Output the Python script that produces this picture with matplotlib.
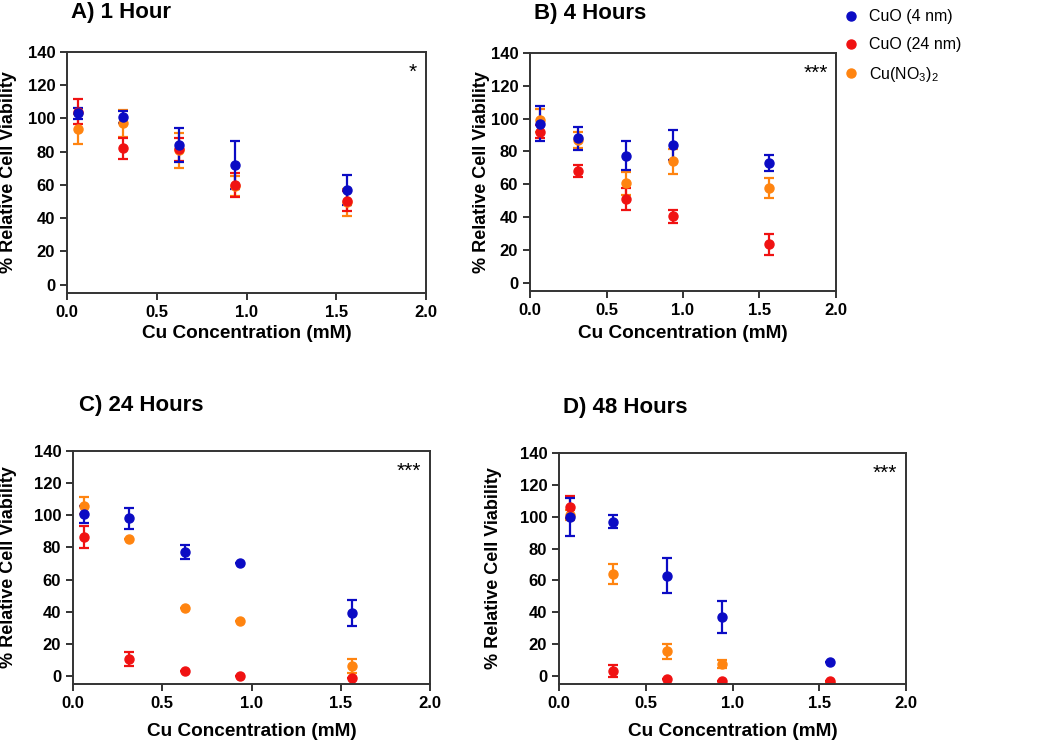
import numpy as np
import matplotlib
matplotlib.use('Agg')
import matplotlib.pyplot as plt
from matplotlib.lines import Line2D

plt.rcParams['font.family'] = ['Liberation Sans', 'DejaVu Sans']
plt.rcParams['mathtext.default'] = 'regular'

conc = [0.0625, 0.3125, 0.625, 0.9375, 1.5625]

# panel A, 1 hour
a_cuo4 = [103, 101, 84, 72, 57];      a_cuo4_err = [3.5, 3.5, 10, 14.4, 9]
a_cuo24 = [104, 82, 81.5, 60, 50.5];  a_cuo24_err = [7.5, 6.5, 7, 7.5, 6]
a_no3 = [93.5, 97, 81, 59.5, 49.5];   a_no3_err = [9, 8, 10.5, 6, 8]
# panel B, 4 hours
b_cuo4 = [97, 88, 77.5, 84, 73];      b_cuo4_err = [10.5, 7, 9, 9, 4.8]
b_cuo24 = [92, 68, 51, 40.5, 23.5];   b_cuo24_err = [4, 3.6, 6.6, 4, 6.5]
b_no3 = [99, 87, 60.5, 74, 57.5];     b_no3_err = [7, 5, 7, 7.5, 6.1]
# panel C, 24 hours
c_cuo4 = [100.5, 98, 77, 70, 39];     c_cuo4_err = [5.5, 6.4, 4.4, 0, 8]
c_cuo24 = [86.5, 10.5, 3, 0, -1.5];   c_cuo24_err = [7, 4.5, 0, 0, 0]
c_no3 = [106, 85.5, 42.5, 34.5, 6];   c_no3_err = [5.2, 0, 0, 0, 4.4]
# panel D, 48 hours
d_cuo4 = [100, 97, 63, 37, 8.5];      d_cuo4_err = [12, 4.2, 10.8, 9.8, 0]
d_cuo24 = [106, 3, -2, -3, -3];       d_cuo24_err = [7, 3.8, 0, 0, 0]
d_no3 = [101, 64, 15.5, 7.5, -4.2];   d_no3_err = [3, 6.1, 4.6, 2.7, 0]

titles = ['A) 1 Hour', 'B) 4 Hours', 'C) 24 Hours', 'D) 48 Hours']
stars = ['*', '***', '***', '***']
blue = '#0b0bc4'; red = '#f01212'; orange = '#ff8410'
W, H = 1050, 742

# pixel boxes: left, right, top, bottom
boxes = [(67, 426, 52, 293), (530, 836, 53, 291), (73, 430, 451, 684), (559, 906, 453, 684)]
title_pos = [(71, 18), (534, 19), (79, 411), (563, 413)]   # baseline
ylab_x = [9, 482, 9, 493]
xlab_y = [334, 333, 732, 732]

panels = [(a_cuo4, a_cuo4_err, a_cuo24, a_cuo24_err, a_no3, a_no3_err),
          (b_cuo4, b_cuo4_err, b_cuo24, b_cuo24_err, b_no3, b_no3_err),
          (c_cuo4, c_cuo4_err, c_cuo24, c_cuo24_err, c_no3, c_no3_err),
          (d_cuo4, d_cuo4_err, d_cuo24, d_cuo24_err, d_no3, d_no3_err)]

fig = plt.figure(figsize=(W/100, H/100), dpi=100)

for i, (b4, b4e, r24, r24e, o, oe) in enumerate(panels):
    l, r, t, b = boxes[i]
    ax = fig.add_axes([l/W, 1-b/H, (r-l)/W, (b-t)/H])
    for y, e, c in [(o, oe, orange), (r24, r24e, red), (b4, b4e, blue)]:
        ax.errorbar(conc, y, yerr=e, fmt='o', color=c, ms=6.5, elinewidth=1.6,
                    capsize=3.8, capthick=1.6)
    ax.set_xlim(0, 2.0)
    ax.set_ylim(-5, 140)
    ax.set_xticks([0, 0.5, 1.0, 1.5, 2.0])
    ax.set_xticklabels(['0.0', '0.5', '1.0', '1.5', '2.0'])
    ax.set_yticks(range(0, 141, 20))
    for s in ax.spines.values():
        s.set_linewidth(1.4); s.set_color('#333333')
    ax.tick_params(direction='out', length=5, width=1.4, labelsize=12, color='#333333')
    for lab in ax.get_xticklabels() + ax.get_yticklabels():
        lab.set_fontweight('bold')
    ax.text(0.975, 0.955, stars[i], transform=ax.transAxes, ha='right', va='top', fontsize=15)
    tx, ty = title_pos[i]
    fig.text(tx/W, 1-ty/H, titles[i], fontsize=16, fontweight='bold', ha='left', va='baseline')
    fig.text(ylab_x[i]/W, 1-(t+b)/2/H, '% Relative Cell Viability', rotation=90,
             fontsize=13, fontweight='bold', ha='center', va='center')
    fig.text((l+r)/2/W, 1-xlab_y[i]/H, 'Cu Concentration (mM)', fontsize=13.7,
             fontweight='bold', ha='center', va='center')

handles = [Line2D([], [], marker='o', ls='none', color=c, ms=6.5) for c in (blue, red, orange)]
fig.legend(handles, ['CuO (4 nm)', 'CuO (24 nm)', 'Cu(NO$_3$)$_2$'], loc='upper left',
           bbox_to_anchor=(829/W, 1+5/H), frameon=False, fontsize=11.5, handlelength=1,
           handletextpad=0.6, labelspacing=0.8)

fig.savefig('out.png', dpi=100)
